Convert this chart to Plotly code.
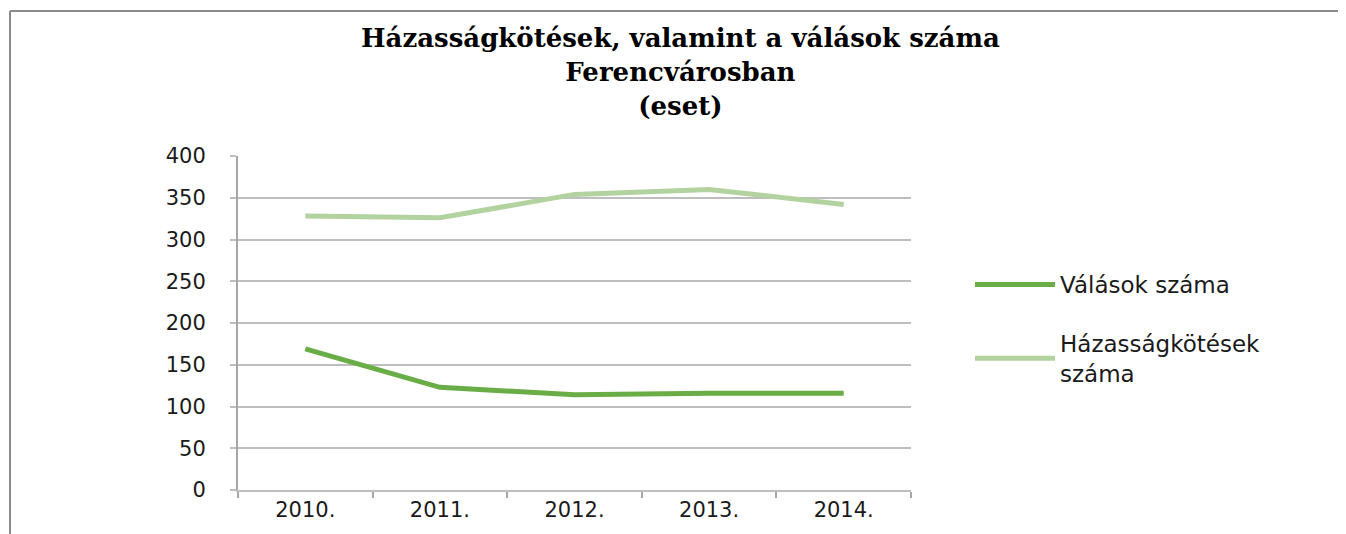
import plotly.graph_objects as go

years = ["2010.", "2011.", "2012.", "2013.", "2014."]
valasok = [169, 123, 114, 116, 116]
hazassag = [328, 326, 354, 360, 342]
y_ticks = [0, 50, 100, 150, 200, 250, 300, 350, 400]
title_text = "Házasságkötések, valamint a válások száma<br>Ferencvárosban<br>(eset)"

OFF = 8  # default page body margin
W, H = 1346 - OFF, 534 - OFF
# plot area in page pixels
L, R, T, B = 238, 911, 156, 490

def px(x):
    return (x - L) / (R - L)

def py(y):
    return (B - y) / (B - T)

fig = go.Figure()
fig.add_trace(go.Scatter(
    x=years, y=valasok, mode="lines", name="Válások száma",
    line=dict(color="#6AAD46", width=5), legendgroup="a"))
fig.add_trace(go.Scatter(
    x=years, y=hazassag, mode="lines", name="Házasságkötések<br>száma",
    line=dict(color="#B2D2A0", width=5), legendgroup="b"))

annotations = [
    dict(text=title_text, xref="paper", yref="paper", x=px(680), y=py(72), xanchor="center",
         yanchor="middle", showarrow=False,
         font=dict(family="DejaVu Serif", size=26, color="black", weight="bold"))
]

fig.update_layout(
    width=W, height=H,
    margin=dict(l=L - OFF, r=W - (R - OFF), t=T - OFF, b=H - (B - OFF)),
    paper_bgcolor="white", plot_bgcolor="white",
    annotations=annotations,
    showlegend=True,
    legend=dict(
        x=px(970), xanchor="left", y=py(263), yanchor="top",
        font=dict(family="DejaVu Sans", size=23, color="#1a1a1a"),
        itemwidth=80, tracegroupgap=26, bgcolor="rgba(0,0,0,0)"),
    xaxis=dict(
        type="category", range=[-0.5, 4.5], showgrid=False,
        showline=True, linecolor="#BEBEBE", linewidth=2,
        ticks="outside", tickson="boundaries", ticklen=6, tickcolor="#A6A6A6", tickwidth=2,
        tickfont=dict(family="DejaVu Sans", size=21, color="#1a1a1a"),
        fixedrange=True),
    yaxis=dict(
        range=[0, 400], tickvals=y_ticks, showgrid=True, gridcolor="#BEBEBE", gridwidth=1.5,
        zeroline=False, showline=True, linecolor="#A6A6A6", linewidth=2,
        ticks="outside", ticklen=6, tickcolor="#BEBEBE", tickwidth=1.5,
        tickfont=dict(family="DejaVu Sans", size=21, color="#1a1a1a"),
        ticklabelstandoff=20, fixedrange=True),
    shapes=[
        dict(type="line", xref="paper", yref="paper", x0=px(10), x1=px(1346), y0=py(11), y1=py(11),
             line=dict(color="#8C8C8C", width=2)),
        dict(type="line", xref="paper", yref="paper", x0=px(10), x1=px(10), y0=py(11), y1=py(534),
             line=dict(color="#8C8C8C", width=2)),
    ],
)

fig.write_html("out.html")
